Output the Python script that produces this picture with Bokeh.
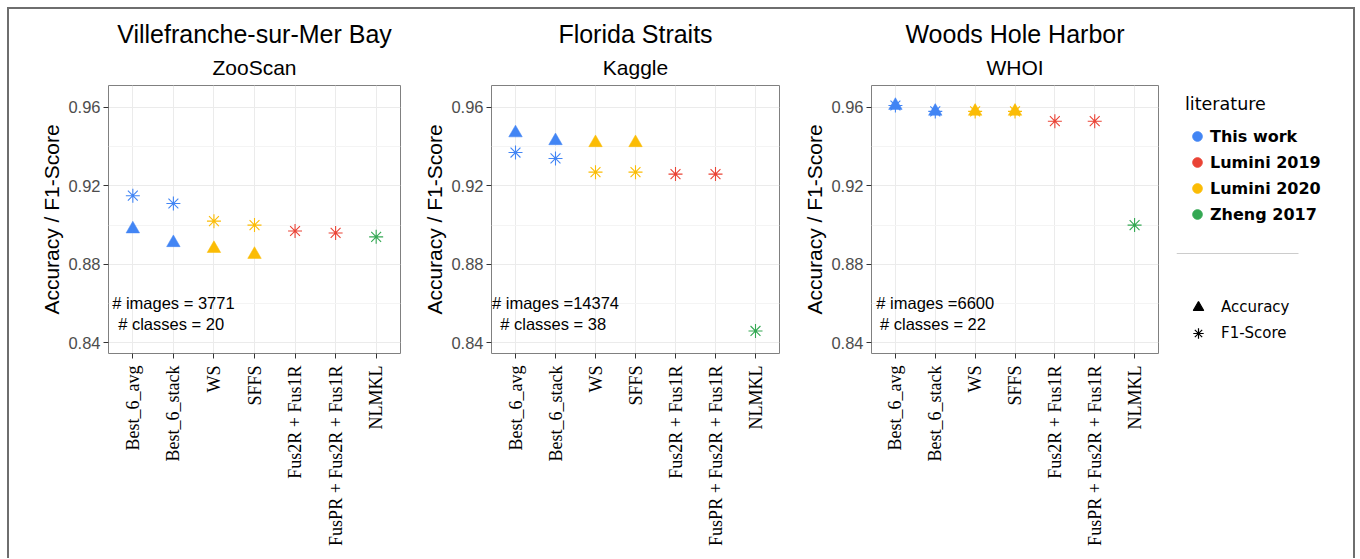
import math
from bokeh.plotting import figure
from bokeh.models import (Range1d, FixedTicker, Label, Title, Legend, LegendItem,
                          ColumnDataSource)
from bokeh.layouts import row
from bokeh.embed import file_html
from bokeh.resources import INLINE

# ---------------- data ----------------
methods = ["Best_6_avg", "Best_6_stack", "WS", "SFFS", "Fus2R + Fus1R",
           "FusPR + Fus2R + Fus1R", "NLMKL"]
method_literature = ["This work", "This work", "Lumini 2020", "Lumini 2020",
                     "Lumini 2019", "Lumini 2019", "Zheng 2017"]
literature_levels = ["This work", "Lumini 2019", "Lumini 2020", "Zheng 2017"]
literature_colors = ["#4285F4", "#EA4335", "#FBBC05", "#34A853"]

sites = ["Villefranche-sur-Mer Bay", "Florida Straits", "Woods Hole Harbor"]
datasets = ["ZooScan", "Kaggle", "WHOI"]

nan = float("nan")
accuracy_villefranche = [0.898, 0.891, 0.888, 0.885, nan, nan, nan]
f1_villefranche = [0.915, 0.911, 0.902, 0.900, 0.897, 0.896, 0.894]
accuracy_florida = [0.947, 0.943, 0.942, 0.942, nan, nan, nan]
f1_florida = [0.937, 0.934, 0.927, 0.927, 0.926, 0.926, 0.846]
accuracy_woodshole = [0.961, 0.958, 0.958, 0.958, nan, nan, nan]
f1_woodshole = [0.961, 0.958, 0.958, 0.958, 0.953, 0.953, 0.900]

accuracy_all = [accuracy_villefranche, accuracy_florida, accuracy_woodshole]
f1_all = [f1_villefranche, f1_florida, f1_woodshole]

info_texts = ["# images = 3771\n # classes = 20",
              "# images =14374\n # classes = 38",
              "# images =6600\n # classes = 22"]
info_x = 2
info_y = 0.855

y_ticks = [0.84, 0.88, 0.92, 0.96]
y_minor = [0.86, 0.90, 0.94]
y_limits = (0.8345, 0.9712)

metric_labels = ["Accuracy", "F1-Score"]

# ---------------- layout ----------------
H = 549
widths = [411, 380, 370]
borders_lr = [(99, 20), (67, 21), (66, 12)]
BORDER_TOP = 76
BORDER_BOTTOM = 205

color_of = dict(zip(literature_levels, literature_colors))
SANS = "Liberation Sans"
SERIF = "Liberation Serif"

x_pos = list(range(1, len(methods) + 1))
panels = []
for i in range(3):
    left, right = borders_lr[i]
    p = figure(width=widths[i], height=H, x_range=Range1d(0.4, len(methods) + 0.6),
               y_range=Range1d(*y_limits), output_backend="svg",
               toolbar_location=None, min_border_left=left, min_border_right=right,
               min_border_top=BORDER_TOP, min_border_bottom=BORDER_BOTTOM)
    p.background_fill_color = "white"
    p.border_fill_color = "white"
    p.outline_line_color = "#808080"
    p.outline_line_width = 1

    # titles (first added = nearest to the plot)
    p.add_layout(Title(text=datasets[i], align="center", text_font=SANS,
                       text_font_size="21px", text_font_style="normal",
                       text_color="black", standoff=14), "above")
    p.add_layout(Title(text=sites[i], align="center", text_font=SANS,
                       text_font_size="25px", text_font_style="normal",
                       text_color="black", standoff=-2), "above")

    # grid
    p.xgrid.ticker = FixedTicker(ticks=x_pos)
    p.ygrid.ticker = FixedTicker(ticks=y_ticks, minor_ticks=y_minor)
    p.grid.grid_line_color = "#EBEBEB"
    p.grid.grid_line_width = 1
    p.ygrid.minor_grid_line_color = "#F4F4F4"
    p.ygrid.minor_grid_line_width = 1

    # axes
    p.yaxis.ticker = FixedTicker(ticks=y_ticks, minor_ticks=[])
    p.yaxis.axis_label = "Accuracy / F1-Score"
    p.yaxis.axis_label_text_font = SANS
    p.yaxis.axis_label_text_font_size = "21px"
    p.yaxis.axis_label_text_font_style = "normal"
    p.yaxis.axis_label_text_color = "black"
    p.yaxis.axis_label_standoff = 2
    p.yaxis.major_label_text_font = SANS
    p.yaxis.major_label_text_font_size = "16.5px"
    p.yaxis.major_label_text_color = "#4D4D4D"
    p.yaxis.major_label_standoff = 3

    p.xaxis.ticker = FixedTicker(ticks=x_pos, minor_ticks=[])
    p.xaxis.major_label_overrides = {x: m for x, m in zip(x_pos, methods)}
    p.xaxis.major_label_orientation = math.pi / 2
    p.xaxis.major_label_text_font = SERIF
    p.xaxis.major_label_text_font_size = "18px"
    p.xaxis.major_label_text_color = "black"
    p.xaxis.major_label_standoff = 7

    for ax in (p.xaxis[0], p.yaxis[0]):
        ax.axis_line_color = None
        ax.major_tick_line_color = "#333333"
        ax.major_tick_out = 5
        ax.major_tick_in = 0
        ax.minor_tick_line_color = None

    colors = [color_of[l] for l in method_literature]
    acc_src = ColumnDataSource(dict(x=x_pos, y=accuracy_all[i], c=colors))
    f1_src = ColumnDataSource(dict(x=x_pos, y=f1_all[i], c=colors))
    p.scatter("x", "y", source=acc_src, marker="triangle", size=13.5,
              fill_color="c", line_color="c", line_width=0.5)
    p.scatter("x", "y", source=f1_src, marker="asterisk", size=14,
              line_color="c", line_width=1.1)

    p.add_layout(Label(x=info_x, y=info_y, text=info_texts[i], text_align="center",
                       text_baseline="middle", text_font=SANS,
                       text_font_size="16.5px", text_color="black",
                       text_line_height=1.15))
    panels.append(p)

# ---------------- legend panel ----------------
LW = 1344 - sum(widths)
LG_LEFT = 6
frame_w = LW - LG_LEFT
frame_h = H - BORDER_TOP - BORDER_BOTTOM
lg = figure(width=LW, height=H, x_range=Range1d(0, frame_w), y_range=Range1d(0, frame_h),
            x_axis_type=None, y_axis_type=None, output_backend="svg",
            toolbar_location=None, min_border_left=LG_LEFT, min_border_right=0,
            min_border_top=BORDER_TOP, min_border_bottom=BORDER_BOTTOM)
lg.outline_line_color = None
lg.grid.visible = False
lg.background_fill_color = "white"
lg.border_fill_color = "white"

# legend-only renderers (a single NaN point, so nothing is drawn in the frame)
lit_items = []
for lit, col in zip(literature_levels, literature_colors):
    r = lg.scatter(x=[nan], y=[nan], marker="circle", size=10,
                   fill_color=col, line_color=col)
    lit_items.append(LegendItem(label=lit, renderers=[r]))
leg1 = Legend(items=lit_items, location="top_left", title="literature",
              title_text_font="DejaVu Sans", title_text_font_size="17.5px",
              title_text_font_style="normal", title_text_color="black",
              title_standoff=10,
              label_text_font="DejaVu Sans", label_text_font_style="bold",
              label_text_font_size="16px", label_text_color="black",
              glyph_width=24, glyph_height=24, label_height=24, spacing=2,
              label_standoff=1, padding=0, margin=9,
              border_line_color=None, background_fill_alpha=0)
lg.add_layout(leg1, "center")

shape_items = []
for lab, mk in zip(metric_labels, ["triangle", "asterisk"]):
    r = lg.scatter(x=[nan], y=[nan], marker=mk, size=10, fill_color="black",
                   line_color="black", line_width=1.2)
    shape_items.append(LegendItem(label=lab, renderers=[r]))
leg2 = Legend(items=shape_items, location=(7, 7),
              label_text_font="DejaVu Sans", label_text_font_style="normal",
              label_text_font_size="15px", label_text_color="black",
              glyph_width=30, glyph_height=26, label_height=26, spacing=0,
              label_standoff=8, padding=0, margin=0,
              border_line_color=None, background_fill_alpha=0)
lg.add_layout(leg2, "center")

# separator line between the two legend blocks
lg.line(x=[0, 122], y=[100, 100], line_color="#CCCCCC", line_width=1)

layout = row(*panels, lg, styles={"margin-top": "7px", "margin-left": "7px",
                                  "border-top": "2px solid #6E6E6E",
                                  "border-left": "2px solid #6E6E6E",
                                  "border-right": "2px solid #6E6E6E"})

open("out.html", "w").write(file_html(layout, INLINE))
